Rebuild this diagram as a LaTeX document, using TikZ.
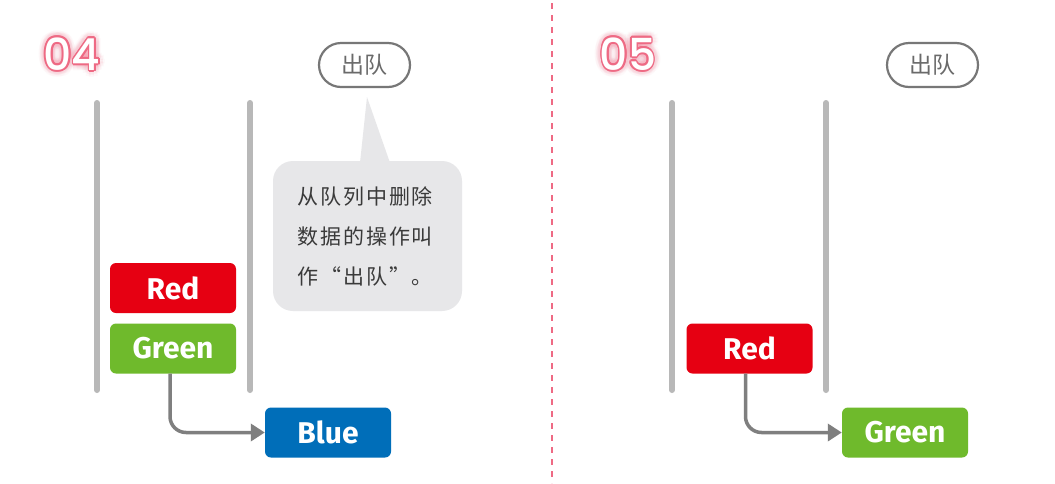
\documentclass[tikz,border=0pt]{standalone}
\usepackage{fontspec}
\setmainfont{Noto Sans CJK SC}
\newfontfamily\cjkf{Noto Sans CJK SC}
\newfontfamily\cjksp{Noto Sans CJK SC}[LetterSpace=9]
\newfontfamily\boxf{Fira Sans}
\newfontfamily\numf{Poppins Medium}
\usetikzlibrary{arrows.meta,calc}
\definecolor{cred}{HTML}{E60012}
\definecolor{cgreen}{HTML}{6FBA2C}
\definecolor{cblue}{HTML}{006EB9}
\definecolor{rail}{HTML}{B8B8B8}
\definecolor{arrgray}{HTML}{7F7F7F}
\definecolor{pillgray}{HTML}{777777}
\definecolor{pilltext}{HTML}{6A6A6A}
\definecolor{callfill}{HTML}{E7E7E9}
\definecolor{txt}{HTML}{3A3A3A}
\definecolor{pinkline}{HTML}{EE6A84}
\definecolor{pinkglow}{HTML}{F58FA4}
\tikzset{
  databox/.style={rounded corners=6pt, minimum width=126pt, minimum height=50pt, inner sep=0pt,
     text=white, font=\boxf\bfseries\fontsize{30}{30}\selectfont},
  railbar/.style={draw=rail, line width=6pt, line cap=round},
  movearrow/.style={draw=arrgray, line width=3.5pt, rounded corners=16pt,
     -{Triangle[length=14pt,width=17pt]}},
  pill/.style={draw=pillgray, line width=2.2pt, fill=white, rounded corners=22pt,
     minimum width=91pt, minimum height=44pt, inner sep=0pt, text=pilltext,
     font=\cjkf\fontsize{23}{23}\selectfont},
  callout/.style={fill=callfill, rounded corners=20pt, minimum width=189pt, minimum height=150pt,
     inner sep=0pt, text=txt, align=left, text width=140pt,
     font=\cjksp\fontsize{21}{40}\selectfont},
  stepnum/.style={font=\numf\fontsize{44}{44}\selectfont, inner sep=0pt},
  divider/.style={draw=pinkline, line width=1.5pt, dash pattern=on 6pt off 6pt}
}
\newcommand{\glownum}[3]{% name, position, text
  \foreach \r/\op in {7/0.05,5/0.08} {
    \foreach \a in {0,30,...,330} {
      \node[stepnum, text=pinkglow, opacity=\op] at ($#2+(\a:\r)$) {#3};
    }
  }
  \foreach \a in {0,30,...,330} {
    \node[stepnum, text=pinkline] at ($#2+(\a:1.7)$) {#3};
  }
  \node[stepnum, text=white] (#1) at #2 {#3};
}
\begin{document}
\begin{tikzpicture}[x=1pt,y=-1pt]
\useasboundingbox (0,0) rectangle (1055,483);
\fill[white] (0,0) rectangle (1055,483);

% divider
\coordinate (dtop) at (552,3);
\coordinate (dbot) at (552,483);
\draw[divider] (dtop) -- (dbot);

% ===== Panel 04 =====
\glownum{n4}{(72,54)}{04}
\draw[railbar] (97,103) -- (97,390);
\draw[railbar] (250,103) -- (250,390);
\node[databox, fill=cred] (r4) at (173,288) {Red};
\node[databox, fill=cgreen] (g4) at (173,348.5) {Green};
\node[databox, fill=cblue] (b4) at (328,432.5) {Blue};
\draw[movearrow] ([xshift=-3pt]g4.south) |- (b4.west);

\node[pill] (p4) at (364.5,65) {出队};
\node[callout] (c4) at (367.5,236) {从队列中删除\\数据的操作叫\\作“出队”。};
\fill[callfill] ($(c4.north)+(-7.5,2)$) -- ($(p4.south)+(2.5,9)$) -- ($(c4.north)+(22.5,2)$) -- cycle;

% ===== Panel 05 =====
\glownum{n5}{(628,54)}{05}
\draw[railbar] (672,103) -- (672,390);
\draw[railbar] (826,103) -- (826,390);
\node[databox, fill=cred] (r5) at (749.5,348.5) {Red};
\node[databox, fill=cgreen] (g5) at (905,432.5) {Green};
\draw[movearrow] ([xshift=-4pt]r5.south) |- (g5.west);
\node[pill] (p5) at (932.5,65) {出队};
\end{tikzpicture}
\end{document}
